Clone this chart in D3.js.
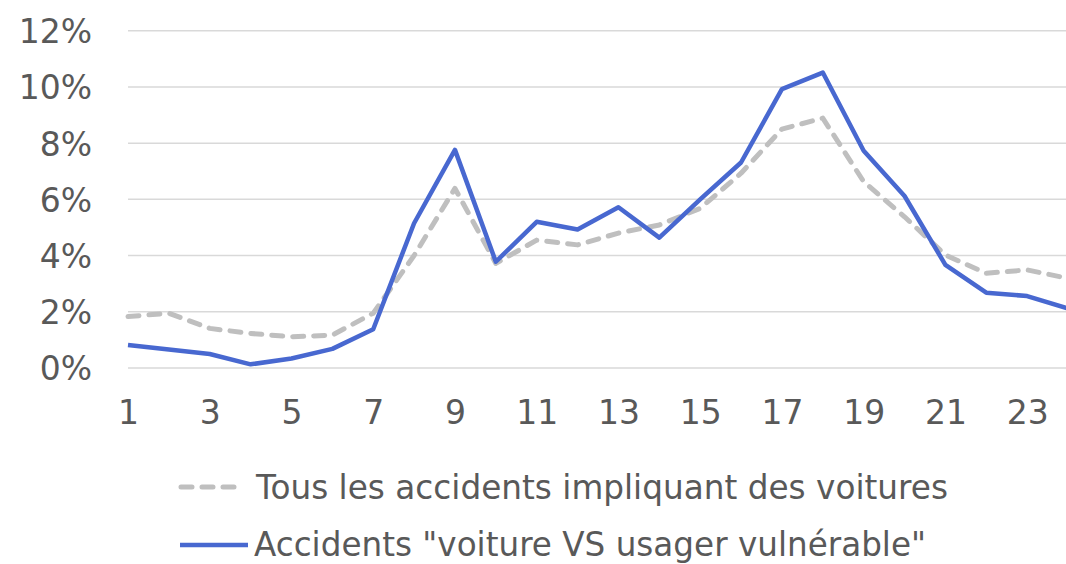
<!DOCTYPE html>
<html>
<head>
<meta charset="utf-8">
<style>
  body { margin: 0; background: #fff; }
  svg { display: block; }
  .tick text, .legend text { font-family: "DejaVu Sans", sans-serif; fill: #595959; }
  .grid line { stroke: #d9d9d9; stroke-width: 1.5; }
</style>
<script src="https://cdn.jsdelivr.net/npm/d3@7"></script>
</head>
<body>
<svg width="1066" height="564"></svg>
<script>
// hours of the day and share of accidents (%)
var hours = d3.range(1, 25);
var allCars = [1.83, 1.95, 1.41, 1.23, 1.11, 1.17, 1.95, 4.0, 6.39, 3.72, 4.55, 4.38,
               4.8, 5.09, 5.68, 6.93, 8.5, 8.89, 6.63, 5.38, 4.02, 3.37, 3.49, 3.19];
var vulnerable = [0.82, 0.66, 0.5, 0.13, 0.34, 0.68, 1.38, 5.15, 7.76, 3.78, 5.2, 4.93,
                  5.72, 4.64, 6.0, 7.31, 9.92, 10.51, 7.73, 6.12, 3.67, 2.68, 2.56, 2.12];
var yTicks = [0, 2, 4, 6, 8, 10, 12];
var xTicks = [1, 3, 5, 7, 9, 11, 13, 15, 17, 19, 21, 23];
var seriesNames = ["Tous les accidents impliquant des voitures",
                   "Accidents \"voiture VS usager vulnérable\""];

var svg = d3.select("svg");

var x = d3.scaleLinear().domain([1, 24]).range([128, 1068]);
var y = d3.scaleLinear().domain([0, 12]).range([368, 30.7]);

// gridlines
svg.append("g")
    .attr("class", "grid")
    .selectAll("line")
    .data(yTicks)
    .enter().append("line")
    .attr("x1", 128).attr("x2", 1066)
    .attr("y1", function(d) { return y(d); })
    .attr("y2", function(d) { return y(d); });

// y axis labels
var yAxis = svg.append("g")
    .attr("transform", "translate(92,0)")
    .call(d3.axisLeft(y).tickValues(yTicks).tickSize(0).tickPadding(0)
        .tickFormat(function(d) { return d + "%"; }));
yAxis.select(".domain").remove();
yAxis.selectAll("text").attr("font-size", 33).attr("dy", "0.36em");

// x axis labels
var xAxis = svg.append("g")
    .attr("transform", "translate(0,401)")
    .call(d3.axisBottom(x).tickValues(xTicks).tickSize(0).tickPadding(0)
        .tickFormat(d3.format("d")));
xAxis.select(".domain").remove();
xAxis.selectAll("text").attr("font-size", 33).attr("dy", "0.71em");

var line = d3.line()
    .x(function(d, i) { return x(hours[i]); })
    .y(function(d) { return y(d); });

svg.append("path")
    .datum(allCars)
    .attr("fill", "none")
    .attr("stroke", "#bfbfbf")
    .attr("stroke-width", 5)
    .attr("stroke-dasharray", "11,10")
    .attr("stroke-linecap", "round")
    .attr("stroke-linejoin", "round")
    .attr("d", line);

svg.append("path")
    .datum(vulnerable)
    .attr("fill", "none")
    .attr("stroke", "#4868d0")
    .attr("stroke-width", 4.5)
    .attr("stroke-linejoin", "round")
    .attr("d", line);

// legend
var legend = svg.append("g").attr("class", "legend");

legend.append("line")
    .attr("x1", 181).attr("x2", 243).attr("y1", 487).attr("y2", 487)
    .attr("stroke", "#bfbfbf").attr("stroke-width", 5)
    .attr("stroke-dasharray", "11,10").attr("stroke-linecap", "round");
legend.append("text")
    .attr("x", 256).attr("y", 499)
    .attr("font-size", 34)
    .attr("textLength", 692).attr("lengthAdjust", "spacingAndGlyphs")
    .text(seriesNames[0]);

legend.append("line")
    .attr("x1", 180).attr("x2", 248).attr("y1", 545).attr("y2", 545)
    .attr("stroke", "#4868d0").attr("stroke-width", 4.5);
legend.append("text")
    .attr("x", 254).attr("y", 556)
    .attr("font-size", 33)
    .attr("textLength", 672).attr("lengthAdjust", "spacingAndGlyphs")
    .text(seriesNames[1]);
</script>
</body>
</html>
